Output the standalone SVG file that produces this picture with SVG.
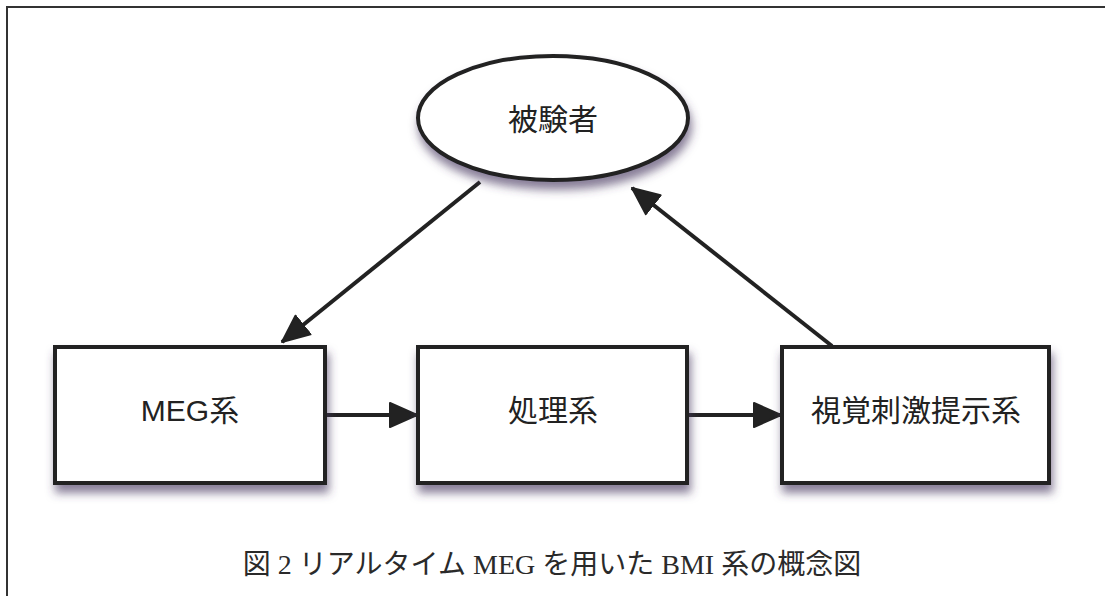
<svg xmlns="http://www.w3.org/2000/svg" width="1105" height="596" viewBox="0 0 1105 596">
<style>
.node{fill:#fff;stroke:#222;stroke-width:4;filter:url(#sh)}
.lbl{font-family:"Liberation Sans","Noto Sans CJK JP",sans-serif;font-size:30px;fill:#222;text-anchor:middle}
.conn{stroke:#222;stroke-width:4;fill:none;marker-end:url(#ah)}
.cap{font-family:"Liberation Serif","Noto Sans CJK JP",serif;font-size:28px;fill:#2a2a2a;text-anchor:middle}
</style>
<defs>
<filter id="sh" x="-20%" y="-20%" width="140%" height="160%">
<feDropShadow dx="2" dy="8" stdDeviation="5" flood-color="#4a3a60" flood-opacity="0.65"/>
</filter>
<marker id="ah" markerUnits="userSpaceOnUse" markerWidth="32" markerHeight="30" refX="28" refY="14" orient="auto">
<path d="M1,2 L28,14 L1,26 Z" fill="#222" stroke="#222" stroke-width="2" stroke-linejoin="round"/>
</marker>
</defs>
<rect width="1105" height="596" fill="#fff"/>
<path d="M7,596 V7 H1105" fill="none" stroke="#333" stroke-width="2"/>
<g id="connectors">
<line class="conn" x1="480" y1="182" x2="282" y2="342"/>
<line class="conn" x1="832" y1="346" x2="632" y2="188"/>
<line class="conn" x1="327" y1="415" x2="417" y2="415"/>
<line class="conn" x1="689" y1="415" x2="781" y2="415"/>
</g>
<g id="subject">
<ellipse class="node" cx="553" cy="118" rx="135" ry="62"/>
<text class="lbl" x="553" y="130">被験者</text>
</g>
<g id="meg">
<rect class="node" x="55" y="347" width="270" height="136"/>
<text class="lbl" x="190" y="421">MEG系</text>
</g>
<g id="proc">
<rect class="node" x="418" y="347" width="269" height="136"/>
<text class="lbl" x="553" y="421">処理系</text>
</g>
<g id="visual">
<rect class="node" x="782" y="347" width="267" height="136"/>
<text class="lbl" x="916" y="421">視覚刺激提示系</text>
</g>
<text class="cap" x="552" y="574">図 2 リアルタイム MEG を用いた BMI 系の概念図</text>
</svg>
